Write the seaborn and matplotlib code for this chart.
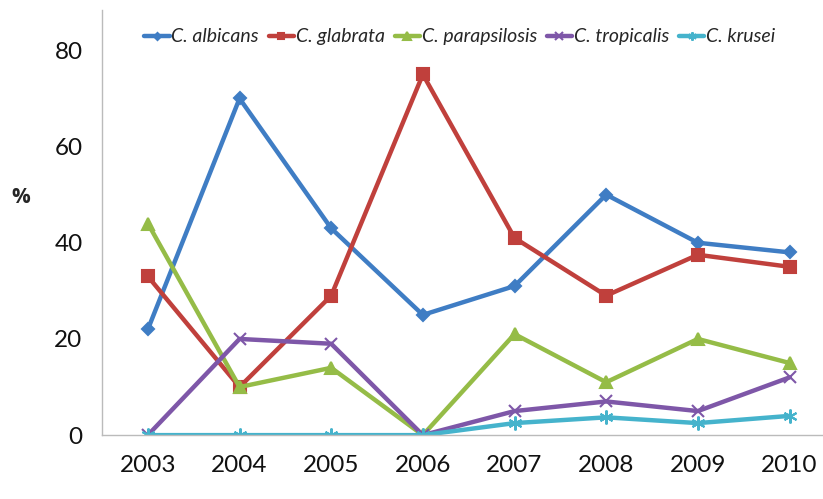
import matplotlib
matplotlib.use("Agg")
import matplotlib.pyplot as plt
import seaborn as sns
import pandas as pd

years = ["2003", "2004", "2005", "2006", "2007", "2008", "2009", "2010"]
albicans = [22, 70, 43, 25, 31, 50, 40, 38]
glabrata = [33, 10, 29, 75, 41, 29, 37.5, 35]
parapsilosis = [44, 10, 14, 0, 21, 11, 20, 15]
tropicalis = [0, 20, 19, 0, 5, 7, 5, 12]
krusei = [0, 0, 0, 0, 2.5, 3.7, 2.5, 4]

series_names = ["C. albicans", "C. glabrata", "C. parapsilosis", "C. tropicalis", "C. krusei"]
series_vals = [albicans, glabrata, parapsilosis, tropicalis, krusei]
colors = ["#3F7DC4", "#C0403C", "#95BC47", "#7E57A8", "#45B3CC"]
markers = ["D", "s", "^", "x", (6, 2, 0)]
msizes = [6, 8, 9, 9, 10]

rows = []
for name, vals in zip(series_names, series_vals):
    for i, (y, v) in enumerate(zip(years, vals)):
        rows.append({"idx": i, "year": y, "value": v, "series": name})
df = pd.DataFrame(rows)

sns.set_style("white")
plt.rcParams["font.family"] = ["Lato", "DejaVu Sans"]

fig = plt.figure(figsize=(8.23, 4.99), dpi=100)
ax = fig.add_axes([0.124, 0.128, 0.891, 0.852])

for name, c, m, ms in zip(series_names, colors, markers, msizes):
    sub = df[df["series"] == name]
    sns.lineplot(data=sub, x="idx", y="value", ax=ax, color=c, linewidth=3.2,
                 marker=m, markersize=ms, markeredgecolor=c, markeredgewidth=1.5,
                 label=name)

ax.set_xlim(-0.5, 7.5)
ax.set_ylim(0, 88.4)
ax.set_xticks(range(len(years)))
ax.set_xticklabels(years)
ax.set_yticks([0, 20, 40, 60, 80])
ax.tick_params(axis="both", labelsize=17.5, length=0, pad=14, colors="#111111")
ax.set_xlabel("")
ax.set_ylabel("")
fig.text(0.025, 0.605, "%", fontsize=15, fontweight="bold", ha="center", va="center",
         family=["Open Sans", "DejaVu Sans"])

for s in ["top", "right"]:
    ax.spines[s].set_visible(False)
for s in ["left", "bottom"]:
    ax.spines[s].set_color("#BBBBBB")
    ax.spines[s].set_linewidth(1)

leg = ax.legend(loc="upper center", bbox_to_anchor=(0.488, 0.975), ncol=5, frameon=False,
                prop={"style": "italic", "size": 14}, handlelength=1.3,
                handletextpad=0.1, columnspacing=0.5, borderaxespad=0, markerscale=0.6)

fig.savefig("out.png", dpi=100)
